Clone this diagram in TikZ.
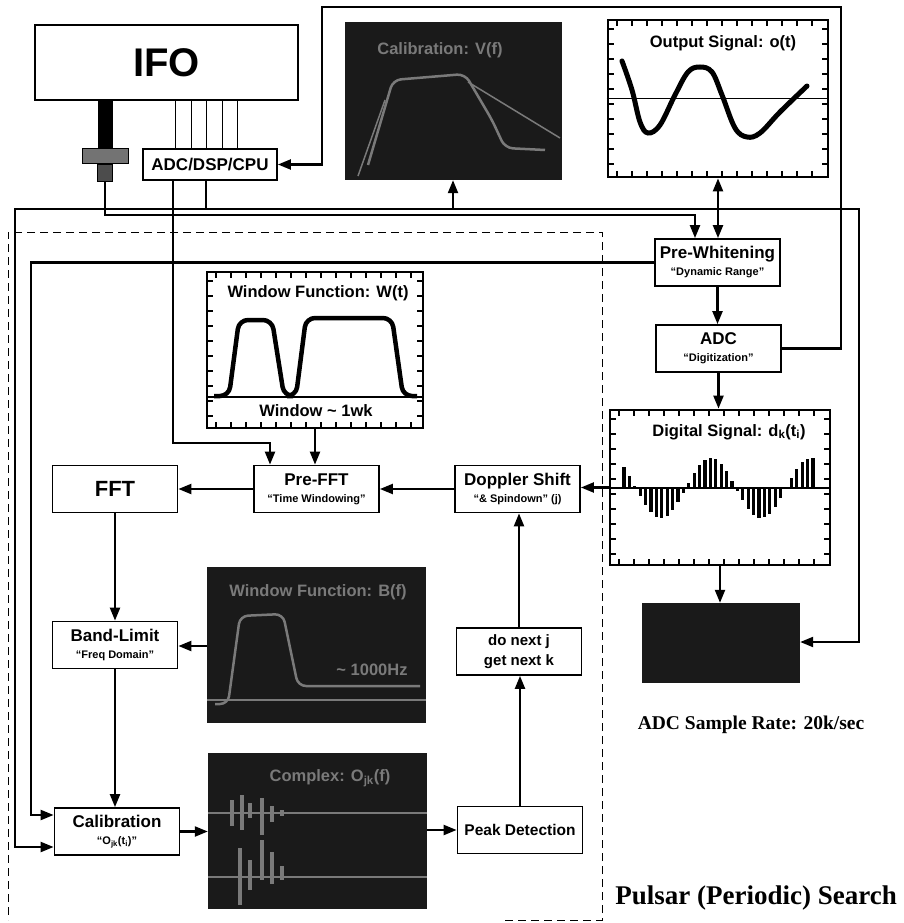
\documentclass[tikz,border=0pt]{standalone}
\usepackage{fontspec}
\setmainfont{Liberation Serif}
\setsansfont{Liberation Sans}
\usetikzlibrary{positioning,arrows.meta,calc}
\definecolor{plotdark}{HTML}{1A1A1A}
\definecolor{plotink}{HTML}{7A7A7A}
\newcommand{\blkfont}{\fontsize{17}{18}\selectfont}
\newcommand{\notefont}{\fontsize{11}{12}\selectfont}
\newcommand{\plotfont}{\fontsize{16.5}{18}\selectfont}
% tick marks round a plot panel: left, top, right, bottom
\newcommand{\paneticks}[4]{%
  \pgfmathtruncatemacro{\ptnx}{(#3-#1-12)/15}%
  \pgfmathtruncatemacro{\ptny}{(#4-#2-12)/15}%
  \foreach \i in {0,...,\ptnx} {
    \draw[tick] (#1+9+\i*15,#2) -- ++(0,6);
    \draw[tick] (#1+9+\i*15,#4) -- ++(0,-6);}
  \foreach \i in {0,...,\ptny} {
    \draw[tick] (#1,#2+9+\i*15) -- ++(6,0);
    \draw[tick] (#3,#2+9+\i*15) -- ++(-6,0);}}

\begin{document}
\begin{tikzpicture}[x=1pt, y=-1pt,
    every node/.style={font=\sffamily\bfseries\blkfont},
    blk/.style={draw, line width=1.8pt, fill=white, minimum width=125pt,
      minimum height=47pt, align=center, inner sep=1pt},
    panel/.style={draw, line width=2.8pt, fill=white, inner sep=0pt},
    darkpanel/.style={fill=plotdark, inner sep=0pt},
    wire/.style={line width=2.2pt},
    flow/.style={wire, -{Triangle[length=13pt,width=10pt]}},
    dflow/.style={wire, {Triangle[length=13pt,width=10pt]}-{Triangle[length=13pt,width=10pt]}},
    tick/.style={line width=2pt},
    darkink/.style={plotink, line width=2.5pt}]

  \useasboundingbox (0,0) rectangle (904,923);

  % front end
  \node[draw, line width=1.6pt, minimum width=263pt, minimum height=75pt,
        font=\sffamily\bfseries\fontsize{40}{40}\selectfont] (ifo) at (166.5,62.5) {IFO};
  \node[blk, minimum width=134pt, minimum height=31pt] (cpu) at (210,164.5) {ADC/DSP/CPU};
  \node[draw, fill=black!55, line width=1pt, minimum width=46pt, minimum height=15pt,
        inner sep=0pt] (clamp) at (105,155.5) {};
  \node[draw, fill=black!70, line width=1pt, minimum width=15pt, minimum height=17pt,
        inner sep=0pt, below=0pt of clamp] (probe) {};
  \draw[line width=15pt] (ifo.south -| clamp) -- (clamp.north);
  \foreach \xx in {175,191,206,222,237}
    \draw[line width=1pt] (\xx,0 |- ifo.south) -- (\xx,0 |- cpu.north);

  \draw[line width=1pt, dash pattern=on 8pt off 5pt]
    (505,920) -- (602,920) -- (602,232) -- (8,232) -- (8,920);

  % plot panels
  \node[darkpanel, minimum width=217pt, minimum height=158pt] (calplot) at (453.5,101) {};
  \node[text=plotink, font=\sffamily\bfseries\plotfont] (caltitle) at (440,50) {Calibration: V(f)};
  \draw[darkink, rounded corners=8pt] (368,165) -- (393,80) -- (465,74) -- (492,120)
    -- (505,148) -- (545,150);
  \draw[plotink, line width=1.5pt] (468,82) -- (560,138);
  \draw[plotink, line width=1.5pt] (358,176) -- (385,100);

  \node[panel, minimum width=220pt, minimum height=157pt] (outplot) at (718,98.5) {};
  \paneticks{608}{20}{828}{177}
  \draw[line width=1pt] (outplot.west) -- (outplot.east);
  \node[font=\sffamily\bfseries\plotfont] (outtitle) at (723,43) {Output Signal: o(t)};
  \draw[line width=5pt, line cap=round] plot[smooth, tension=0.6] coordinates {
    (622,61) (632,90) (640,122) (648,133) (660,125) (675,95) (688,72) (700,67)
    (712,72) (722,95) (735,128) (747,137) (760,133) (780,112) (807,86)};

  \node[panel, minimum width=216pt, minimum height=156pt] (wplot) at (315,350) {};
  \paneticks{207}{272}{423}{428}
  \draw[line width=2pt] (207,397) -- (423,397);
  \node[font=\sffamily\bfseries\plotfont] (wtitle) at (318,293) {Window Function: W(t)};
  \node[font=\sffamily\bfseries\plotfont] (wspan) at (316,411) {Window \textasciitilde\ 1wk};
  \draw[line width=4.5pt, rounded corners=9pt] (214,396) -- (229,396) -- (239,320)
    -- (272,320) -- (284,396) -- (296,396) -- (306,318) -- (392,318) -- (403,396) -- (417,396);

  \node[panel, minimum width=220pt, minimum height=155pt] (dsig) at (720,487.5) {};
  \paneticks{610}{410}{830}{565}
  \draw[line width=2pt] (dsig.west) -- (dsig.east);
  \node[font=\sffamily\bfseries\plotfont] (dtitle) at (729,432)
    {Digital Signal: d\textsubscript{k}(t\textsubscript{i})};
  \foreach \i in {0,...,35} {
    \pgfmathsetmacro{\bx}{624+\i*5.4}
    \pgfmathsetmacro{\bh}{-30*sin(3.6*(\bx-636))}
    \fill (\bx-1.6,488) rectangle (\bx+1.6,488-\bh);
  }

  \node[darkpanel, minimum width=219pt, minimum height=156pt] (bplot) at (316.5,645) {};
  \node[text=plotink, font=\sffamily\bfseries\plotfont] (btitle) at (318,592) {Window Function: B(f)};
  \draw[darkink, rounded corners=8pt] (215,704) -- (228,704) -- (240,616) -- (283,614)
    -- (298,686) -- (420,686);
  \node[text=plotink, font=\sffamily\bfseries\plotfont] (bspan) at (372,670) {\textasciitilde\ 1000Hz};
  \draw[plotink, line width=1.5pt] (207,700) -- (426,700);

  \node[darkpanel, minimum width=219pt, minimum height=156pt] (complex) at (317.5,831) {};
  \node[text=plotink, font=\sffamily\bfseries\plotfont] (ctitle) at (330,778)
    {Complex: O\textsubscript{jk}(f)};
  \draw[plotink, line width=1.5pt] (208,813) -- (427,813);
  \draw[plotink, line width=1.5pt] (208,877) -- (427,877);
  \foreach \bx/\bt/\bb in {232/800/826, 242/795/830, 250/803/818, 262/798/835,
                           272/806/822, 282/810/816, 240/848/905, 250/860/890,
                           262/840/880, 272/852/884, 282/866/880}
    \fill[plotink] (\bx-2,\bt) rectangle (\bx+2,\bb);

  \node[darkpanel, minimum width=158pt, minimum height=80pt] (hw) at (721,643) {};

  % processing blocks
  \node[blk] (pwhite) at (717.5,262.5) {Pre-Whitening\\[-1pt]{\notefont “Dynamic Range”}};
  \node[blk] (adc) at (718.5,348.5) {ADC\\[-1pt]{\notefont “Digitization”}};
  \node[blk] (doppler) at (517.5,489) {Doppler Shift\\[-1pt]{\notefont “\& Spindown” (j)}};
  \node[blk] (prefft) at (316.5,489) {Pre-FFT\\[-1pt]{\notefont “Time Windowing”}};
  \node[blk, font=\sffamily\bfseries\fontsize{22}{24}\selectfont] (fft) at (115,489) {FFT};
  \node[blk] (bandlim) at (115,645) {Band-Limit\\[-1pt]{\notefont “Freq Domain”}};
  \node[blk] (calib) at (117,831.5)
    {Calibration\\[-1pt]{\notefont “O\textsubscript{jk}(t\textsubscript{i})”}};
  \node[blk, font=\sffamily\bfseries\fontsize{15.5}{17}\selectfont] (peak) at (520,830) {Peak Detection};
  \node[blk, font=\sffamily\bfseries\fontsize{15}{20}\selectfont] (nextjk) at (519,651.5) {do next j\\get next k};

  \node[font=\rmfamily\bfseries\fontsize{19.5}{22}\selectfont] (rate) at (751,725) {ADC Sample Rate: 20k/sec};
  \node[font=\rmfamily\bfseries\fontsize{27}{30}\selectfont] (heading) at (756,898) {Pulsar (Periodic) Search};

  % connections
  \draw[wire] (206,0 |- cpu.south) -- (206,209);
  \draw[flow] (206,209) -- (15,209) -- (15,847) -- (calib.west |- 0,847);
  \draw[flow] (206,209) -- (859,209) -- (859,642) -- (hw.east |- 0,642);
  \draw[flow] (453,209) -- (453,0 |- calplot.south);
  \draw[flow] (probe.south) |- (695,215) -- (695,0 |- pwhite.north);
  \draw[flow] (173,0 |- cpu.south) -- (173,443) -- (270,443) -- (270,0 |- prefft.north);
  \draw[dflow] (outplot.south) -- (outplot.south |- pwhite.north);
  \draw[flow] (pwhite.west) -- (31,0 |- pwhite.west) -- (31,815) -- (calib.west |- 0,815);
  \draw[flow] (pwhite.south) -- (pwhite.south |- adc.north);
  \draw[flow] (adc.east) -| (841,7) -| (322,0 |- cpu.east) -- (cpu.east);
  \draw[flow] (adc.south) -- (adc.south |- dsig.north);
  \draw[flow] (dsig.west) -- (dsig.west -| doppler.east);
  \draw[flow] (dsig.south) -- (dsig.south |- hw.north);
  \draw[flow] (wplot.south) -- (wplot.south |- prefft.north);
  \draw[flow] (doppler.west) -- (prefft.east);
  \draw[flow] (prefft.west) -- (fft.east);
  \draw[flow] (fft.south) -- (fft.south |- bandlim.north);
  \draw[flow] (bplot.west |- 0,646) -- (bandlim.east |- 0,646);
  \draw[flow] (bandlim.south) -- (bandlim.south |- calib.north);
  \draw[flow] (calib.east) -- (calib.east -| complex.west);
  \draw[flow] (complex.east |- peak.west) -- (peak.west);
  \draw[flow] (peak.north) -- (peak.north |- nextjk.south);
  \draw[flow] (nextjk.north) -- (nextjk.north |- doppler.south);
\end{tikzpicture}
\end{document}
